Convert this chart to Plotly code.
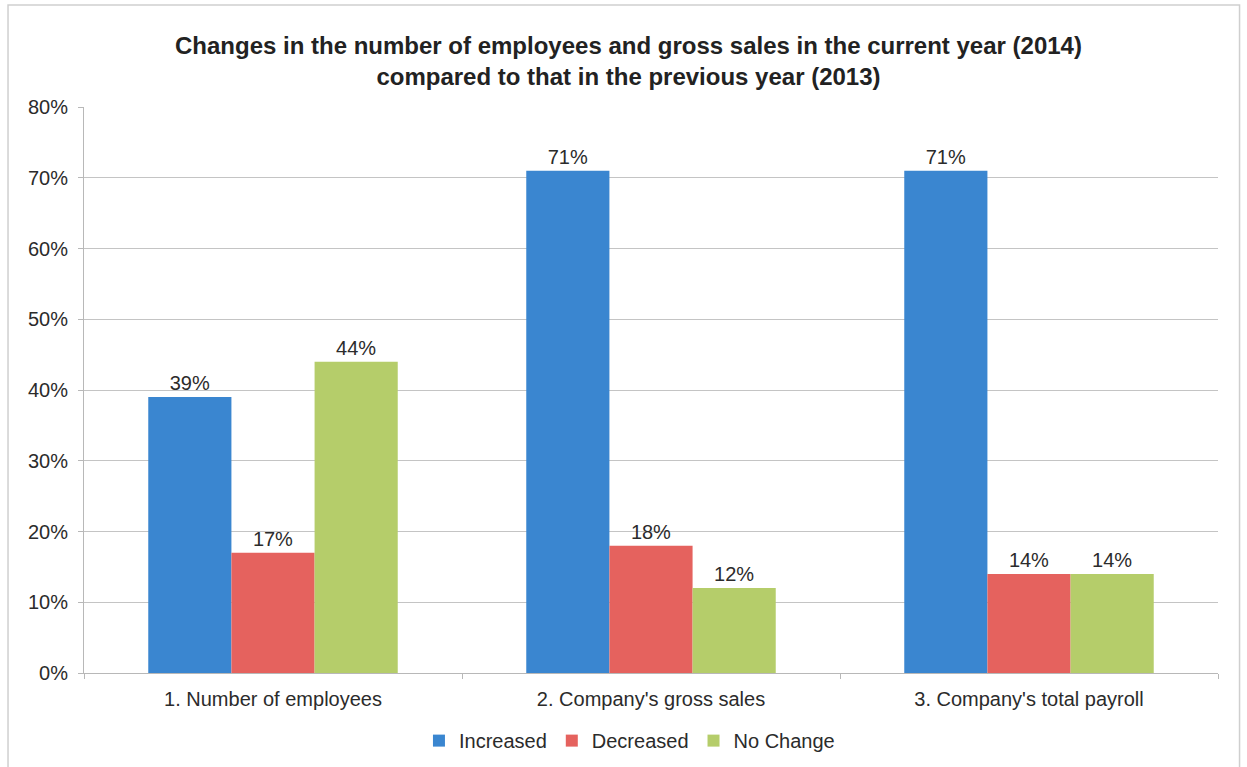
import plotly.graph_objects as go

# Survey results: share of respondents per change type
categories = ["1. Number of employees", "2. Company's gross sales", "3. Company's total payroll"]
increased = [0.39, 0.71, 0.71]
decreased = [0.17, 0.18, 0.14]
no_change = [0.44, 0.12, 0.14]
y_ticks = [0, 0.1, 0.2, 0.3, 0.4, 0.5, 0.6, 0.7, 0.8]

series = [
    ("Increased", increased, "#3a86d0"),
    ("Decreased", decreased, "#e5625e"),
    ("No Change", no_change, "#b5cd6a"),
]

FONT = "Liberation Sans, Arial, sans-serif"
TEXT = "#2b2b2b"

fig = go.Figure()
for name, vals, color in series:
    fig.add_trace(go.Bar(
        name=name,
        x=categories,
        y=vals,
        marker=dict(color=color, line=dict(width=0)),
        texttemplate="%{y:.0%}",
        textposition="outside",
        cliponaxis=False,
        textfont=dict(family=FONT, size=20, color=TEXT),
    ))

fig.update_layout(
    width=1247,
    height=767,
    margin=dict(l=84, r=29, t=107, b=94, autoexpand=False),
    paper_bgcolor="white",
    plot_bgcolor="white",
    font=dict(family=FONT, size=20, color=TEXT),
    title=dict(
        text="<b>Changes in the number of employees and gross sales in the current year (2014)<br>compared to that in the previous year (2013)</b>",
        x=0.504,
        xanchor="center",
        y=0.93,
        yanchor="top",
        font=dict(family=FONT, size=24, color="#222222"),
    ),
    barmode="group",
    bargap=0.34,
    bargroupgap=0,
    showlegend=True,
    legend=dict(
        orientation="h",
        x=0.481,
        xanchor="center",
        y=-0.085,
        yanchor="top",
        font=dict(family=FONT, size=20, color=TEXT),
        itemwidth=30,
        tracegroupgap=0,
    ),
    xaxis=dict(
        automargin=False,
        showgrid=False,
        showline=True,
        linecolor="#b8b8b8",
        linewidth=1,
        ticks="outside",
        tickson="boundaries",
        ticklen=5,
        tickcolor="#b8b8b8",
        ticklabelstandoff=8,
        tickfont=dict(family=FONT, size=20, color=TEXT),
    ),
    yaxis=dict(
        automargin=False,
        range=[0, 0.8],
        tickvals=y_ticks,
        tickformat=".0%",
        showgrid=True,
        gridcolor="#c4c4c4",
        gridwidth=1,
        showline=True,
        linecolor="#b8b8b8",
        ticks="outside",
        ticklen=5,
        tickcolor="#b8b8b8",
        ticklabelstandoff=6,
        zeroline=False,
        tickfont=dict(family=FONT, size=20, color=TEXT),
    ),
    shapes=[
        dict(
            type="rect", xref="paper", yref="paper",
            x0=-0.067, x1=1.019, y0=-0.175, y1=1.18,
            line=dict(color="#cfcfcf", width=1.5),
            fillcolor="rgba(0,0,0,0)",
            layer="below",
        )
    ],
)

fig.write_html("out.html")
